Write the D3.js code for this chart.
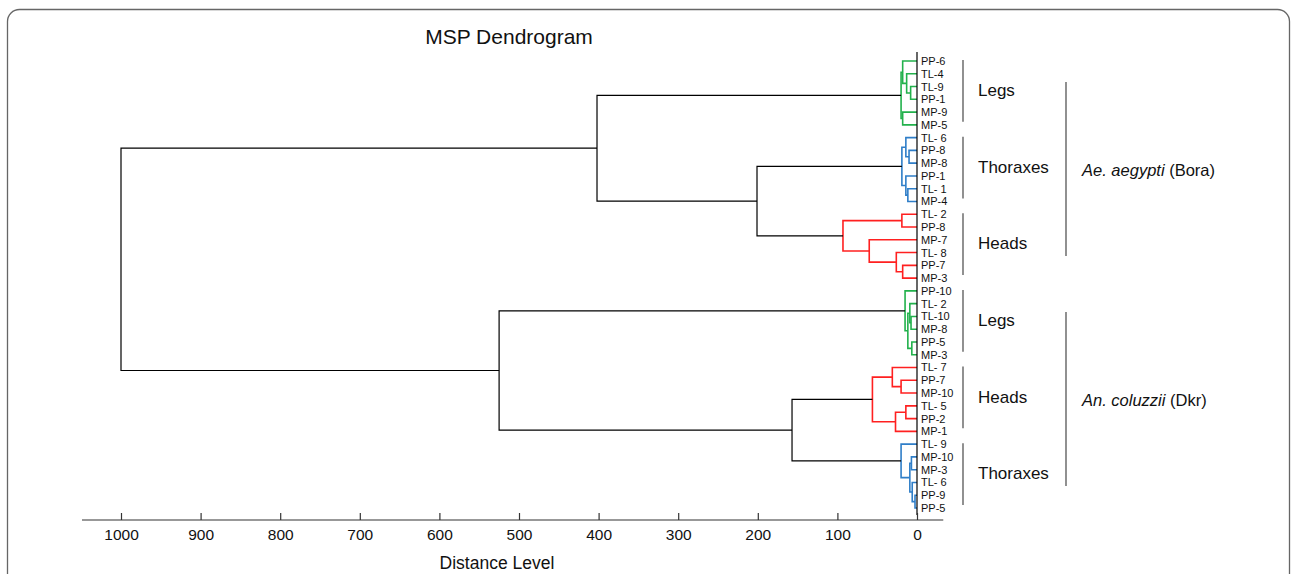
<!DOCTYPE html>
<html>
<head>
<meta charset="utf-8">
<script src="https://cdn.jsdelivr.net/npm/d3@7"></script>
<style>
  body { margin: 0; background: #fff; }
  svg { display: block; font-family: "Liberation Sans", Arial, sans-serif; }
</style>
</head>
<body>
<svg></svg>
<script>
const width = 1292
const height = 574

// leaf labels, top to bottom
const leaves = [
  "PP-6", "TL-4", "TL-9", "PP-1", "MP-9", "MP-5",
  "TL- 6", "PP-8", "MP-8", "PP-1", "TL- 1", "MP-4",
  "TL- 2", "PP-8", "MP-7", "TL- 8", "PP-7", "MP-3",
  "PP-10", "TL- 2", "TL-10", "MP-8", "PP-5", "MP-3",
  "TL- 7", "PP-7", "MP-10", "TL- 5", "PP-2", "MP-1",
  "TL- 9", "MP-10", "MP-3", "TL- 6", "PP-9", "PP-5"
]
// tissue of each block of 6 leaves
const groupNames = ["Legs", "Thoraxes", "Heads", "Legs", "Heads", "Thoraxes"]
const species = ["Ae. aegypti", "An. coluzzii"]
const sites = ["(Bora)", "(Dkr)"]

// merges: [left id, right id, distance]; ids 0..35 are leaves, merge k gets id 36 + k
const merges = [
  [2, 3, 8], [1, 36, 13], [0, 37, 18], [4, 5, 18], [38, 39, 20],
  [7, 8, 10], [6, 41, 14], [10, 11, 11.5], [9, 43, 14], [42, 44, 19],
  [12, 13, 19], [16, 17, 18], [15, 47, 26], [14, 48, 60], [46, 49, 93],
  [45, 50, 201], [40, 51, 402],
  [20, 21, 7.5], [19, 53, 9], [22, 23, 6.5], [54, 55, 11.5], [18, 56, 15],
  [25, 26, 20], [24, 58, 31], [27, 28, 14], [60, 29, 27], [59, 61, 56],
  [31, 32, 7], [34, 35, 2.5], [33, 64, 6], [63, 65, 9], [30, 66, 20],
  [62, 67, 157], [57, 68, 525], [52, 69, 1000]
]
const tickValues = [1000, 900, 800, 700, 600, 500, 400, 300, 200, 100, 0]

const tissueColors = { Legs: "#22b14c", Thoraxes: "#2f7ec8", Heads: "#ff2020" }

const svg = d3.select("svg").attr("width", width).attr("height", height)

// border
svg.append("rect")
  .attr("x", 7.5).attr("y", 9.5)
  .attr("width", 1282).attr("height", 600)
  .attr("rx", 12)
  .attr("fill", "none").attr("stroke", "#666").attr("stroke-width", 1.3)

const x = d3.scaleLinear().domain([1000, 0]).range([121, 917])
const y = d3.scalePoint().domain(d3.range(leaves.length)).range([61, 508])

// build node table
const nodes = leaves.map((name, i) => ({
  id: i, h: 0, y: y(i), tissues: new Set([groupNames[Math.floor(i / 6)]])
}))
merges.forEach(([a, b, h], k) => {
  const l = nodes[a], r = nodes[b]
  nodes.push({
    id: leaves.length + k, h: h, left: l, right: r,
    y: (l.y + r.y) / 2,
    tissues: new Set([...l.tissues, ...r.tissues])
  })
})

const links = nodes.filter(d => d.left)
svg.append("g")
  .attr("fill", "none")
  .selectAll("path")
  .data(links)
  .join("path")
  .attr("stroke", d => d.tissues.size === 1 ? tissueColors[[...d.tissues][0]] : "#000")
  .attr("stroke-width", d => d.tissues.size === 1 ? 1.6 : 1.2)
  .attr("d", d => `M${x(d.left.h)},${d.left.y}H${x(d.h)}V${d.right.y}H${x(d.right.h)}`)

// zero line along the leaves
svg.append("line")
  .attr("x1", x(0)).attr("x2", x(0))
  .attr("y1", y(0) - 9).attr("y2", y(leaves.length - 1) + 7)
  .attr("stroke", "#000").attr("stroke-width", 1.2)

// leaf labels
svg.append("g")
  .selectAll("text")
  .data(leaves)
  .join("text")
  .attr("x", x(0) + 4)
  .attr("y", (d, i) => y(i))
  .attr("dy", "0.36em")
  .attr("font-size", "11px")
  .attr("fill", "#111")
  .text(d => d)

// x axis
const axis = svg.append("g")
  .attr("transform", "translate(0,520)")
  .call(d3.axisBottom(x).tickValues(tickValues).tickFormat(d3.format("d"))
    .tickSizeInner(-7).tickSizeOuter(0).tickPadding(9))
axis.select(".domain").remove()
axis.append("line")
  .attr("x1", x(1049)).attr("x2", x(-33))
  .attr("stroke", "#333").attr("stroke-width", 1.2)
axis.selectAll(".tick line").attr("stroke", "#333").attr("stroke-width", 1.2)
axis.selectAll(".tick text")
  .attr("font-size", "15.5px")
  .attr("font-family", "Liberation Sans, Arial, sans-serif")
  .attr("fill", "#111")

svg.append("text")
  .attr("x", 497).attr("y", 569)
  .attr("text-anchor", "middle")
  .attr("font-size", "17.5px")
  .attr("fill", "#111")
  .text("Distance Level")

svg.append("text")
  .attr("x", 509).attr("y", 44)
  .attr("text-anchor", "middle")
  .attr("font-size", "21px")
  .attr("fill", "#111")
  .text("MSP Dendrogram")

// tissue brackets
groupNames.forEach((g, i) => {
  const y0 = y(i * 6) - 1, y1 = y(i * 6 + 5) - 3
  svg.append("line")
    .attr("x1", 963).attr("x2", 963)
    .attr("y1", y0).attr("y2", y1)
    .attr("stroke", "#555").attr("stroke-width", 1.3)
  svg.append("text")
    .attr("x", 978).attr("y", (y0 + y1) / 2 - 1)
    .attr("dy", "0.36em")
    .attr("font-size", "17px")
    .attr("fill", "#111")
    .text(g)
})

// species brackets
species.forEach((s, i) => {
  const y0 = y(i * 18) + 21, y1 = y(i * 18 + 17) - 22
  svg.append("line")
    .attr("x1", 1066).attr("x2", 1066)
    .attr("y1", y0).attr("y2", y1)
    .attr("stroke", "#555").attr("stroke-width", 1.3)
  const t = svg.append("text")
    .attr("x", 1082).attr("y", (y0 + y1) / 2 + 1)
    .attr("dy", "0.36em")
    .attr("font-size", "16.5px")
    .attr("fill", "#111")
  t.append("tspan").attr("font-style", "italic").text(s)
  t.append("tspan").text(" " + sites[i])
})
</script>
</body>
</html>
